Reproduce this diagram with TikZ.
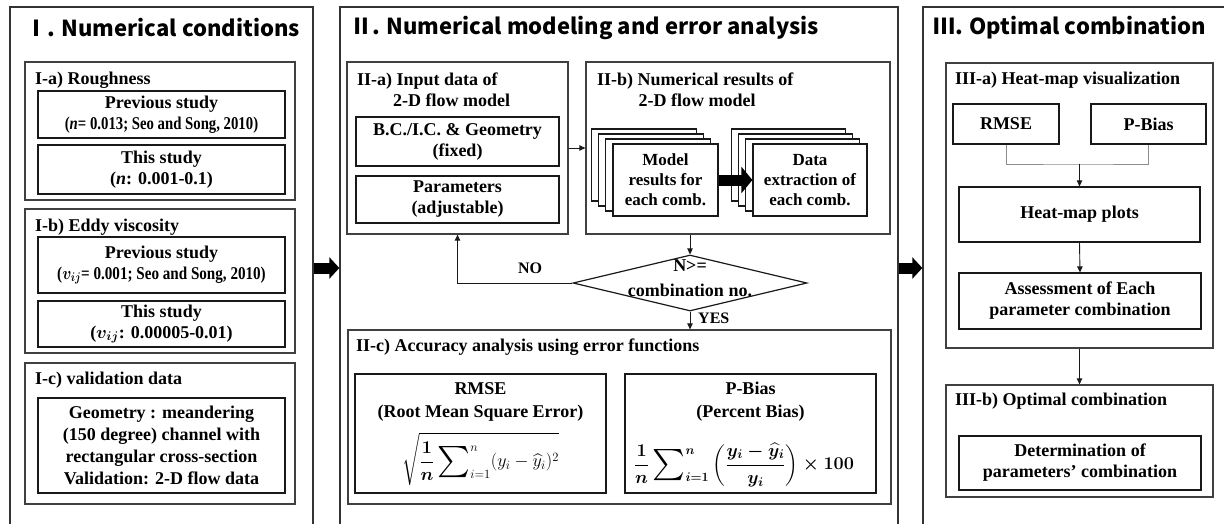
\RequirePackage{fix-cm}
\documentclass[tikz,border=0pt]{standalone}
\usepackage{amsmath}
\usepackage{exscale}
\usepackage{graphicx}
\usepackage{fontspec}
\setmainfont{Liberation Serif}
\newfontfamily\headfont{Noto Sans CJK KR}
\usetikzlibrary{arrows.meta,shapes.geometric,calc}
% enlarged summation sign with side limits
\newcommand\bigsumop{\mathop{\vcenter{\hbox{\scalebox{1.8}{$\textstyle\sum$}}}}\nolimits}
% percent bias formula, set in bold math
\newcommand\pbiasformula{{\boldmath$\displaystyle\frac{1}{n}\bigsumop_{i=1}^{n}\left(\frac{y_i-\widehat{y}_i}{y_i}\right)\times\mathbf{100}$}}

\begin{document}
\begin{tikzpicture}[x=1pt,y=-1pt,
  font=\fontsize{18}{21}\selectfont\bfseries,
  panel/.style={draw=black!80, line width=1.3pt, inner sep=0pt},
  grp/.style={draw=black!75, line width=1.3pt, inner sep=0pt},
  box/.style={draw=black!90, line width=1.2pt, fill=white, align=center, inner sep=0pt},
  card/.style={box},
  txt/.style={inner sep=0pt, align=center},
  lbl/.style={anchor=west, inner sep=0pt, align=left},
  ttl/.style={anchor=west, inner sep=0pt, font=\headfont\bfseries\fontsize{22}{26}\selectfont},
  arr/.style={draw=black!90, line width=0.9pt, -{Triangle[length=6pt,width=5.5pt]}},
  gline/.style={draw=black!45, line width=1pt},
  fat/.style={line width=11pt, -{Triangle[length=10pt,width=21pt]}},
  fatsm/.style={line width=11pt, -{Triangle[length=11pt,width=26pt]}}
]
\useasboundingbox (0,0) rectangle (1224,523);
\clip (0,0) rectangle (1224,523);

% ---------- three main panels ----------
\node[panel, minimum width=303, minimum height=553] (pI)   at (161.5,283.5) {};
\node[panel, minimum width=558, minimum height=553] (pII)  at (619,283.5) {};
\node[panel, minimum width=317, minimum height=553] (pIII) at (1081.5,283.5) {};

\node[ttl] (tI)   at (25,28)  {Ⅰ. Numerical conditions};
\node[ttl] (tII)  at (350,28) {Ⅱ. Numerical modeling and error analysis};
\node[ttl] (tIII) at (933,28) {Ⅲ. Optimal combination};

\coordinate (lvl) at (0,268);
\draw[fat] (pI.east |- lvl) -- (pII.west |- lvl);
\draw[fat] (pII.east |- lvl) -- (pIII.west |- lvl);

% ---------- I. numerical conditions ----------
\node[grp, minimum width=270, minimum height=138] (Ia) at (160,131) {};
\node[lbl] (Ialbl) at (35,80) {I-a) Roughness};
\node[box, minimum width=247, minimum height=47] (prevA) at (161.5,114.5)
  {Previous study\\\scalebox{0.82}[1]{(\textit{n}= 0.013; Seo and Song, 2010)}};
\node[box, minimum width=247, minimum height=49] (thisA) at (161.5,169.5)
  {This study\\(\textit{n}: 0.001-0.1)};

\node[grp, minimum width=270, minimum height=144] (Ib) at (160,281) {};
\node[lbl] (Iblbl) at (35,227) {I-b) Eddy viscosity};
\node[box, minimum width=247, minimum height=56] (prevB) at (161.5,265)
  {Previous study\\\scalebox{0.84}[1]{({\boldmath$v_{ij}$}= 0.001; Seo and Song, 2010)}};
\node[box, minimum width=247, minimum height=46] (thisB) at (161.5,324)
  {This study\\({\boldmath$v_{ij}$}: 0.00005-0.01)};

\node[grp, minimum width=270, minimum height=141] (Ic) at (160,433.5) {};
\node[lbl] (Iclbl) at (35,380) {I-c) validation data};
\node[box, minimum width=247, minimum height=95, font=\fontsize{18}{22}\selectfont\bfseries] (valC) at (161.5,445.5)
  {Geometry : meandering\\(150 degree) channel with\\rectangular cross-section\\Validation: 2-D flow data};

% ---------- II. numerical modeling ----------
\node[grp, minimum width=221, minimum height=172] (IIa) at (457.5,148) {};
\node[lbl] (IIalbl) at (357,89.5) {II-a) Input data of\\\hspace*{2em}2-D flow model};
\node[box, minimum width=203, minimum height=49] (bc) at (457.5,141.5)
  {B.C./I.C. \& Geometry\\(fixed)};
\node[box, minimum width=203, minimum height=47] (par) at (457.5,199.5)
  {Parameters\\(adjustable)};

\node[grp, minimum width=304, minimum height=172] (IIb) at (738,148) {};
\node[lbl] (IIblbl) at (597,89.5) {II-b) Numerical results of\\\hspace*{2.3em}2-D flow model};

\foreach \k in {3,2,1}{
  \node[card, minimum width=105, minimum height=72] (sa\k) at ({665.5-7.3*\k},{180-5*\k}) {};
  \node[card, minimum width=114, minimum height=72] (sb\k) at ({810-7.3*\k},{180-5*\k}) {};
}
\node[card, minimum width=105, minimum height=72, font=\fontsize{17}{20}\selectfont\bfseries] (sa) at (665.5,180)
  {Model\\results for\\each comb.};
\node[card, minimum width=114, minimum height=72, font=\fontsize{17}{20}\selectfont\bfseries] (sb) at (810,180)
  {Data\\extraction of\\each comb.};
\draw[fatsm] (sa.east) -- (sb.west);

\draw[arr] (IIa.east) -- (IIb.west);

\node[diamond, draw=black!90, line width=1.2pt, minimum width=234, minimum height=56, inner sep=0pt] (dec) at (690,283) {};
\node[txt] (decA) at (690,266) {N>=};
\node[txt] (decB) at (690,290) {combination no.};

\draw[arr] (IIb.south -| dec.north) -- (dec.north);
\draw[arr] (dec.west) -| (IIa.south);
\node[txt, font=\fontsize{16}{18}\selectfont\bfseries] (no) at (530,268) {NO};

\node[grp, minimum width=543, minimum height=174] (IIc) at (619.5,417) {};
\draw[arr] (dec.south) -- (dec.south |- IIc.north);
\node[lbl, font=\fontsize{16}{18}\selectfont\bfseries] (yes) at (698,318) {YES};

\node[lbl] (IIclbl) at (356,347) {II-c) Accuracy analysis using error functions};
\node[box, minimum width=251, minimum height=119] (rmse) at (480.5,433.5) {};
\node[txt, font=\fontsize{18}{23}\selectfont\bfseries] (rmseT) at (480.5,401.5)
  {RMSE\\(Root Mean Square Error)};
\node[txt] (rmseF) at (480.5,459)
  {$\displaystyle\sqrt{\boldsymbol{\frac{1}{n}}\bigsumop_{i=1}^{n}(y_i-\widehat{y}_i)^2}$};

\node[box, minimum width=251, minimum height=119] (pbias) at (750.5,433.5) {};
\node[txt, font=\fontsize{18}{23}\selectfont\bfseries] (pbiasT) at (750.5,401.5)
  {P-Bias\\(Percent Bias)};
\node[txt] (pbiasF) at (744,465) {\pbiasformula};

% ---------- III. optimal combination ----------
\node[grp, minimum width=267, minimum height=285] (IIIa) at (1079.5,205.5) {};
\node[lbl] (IIIalbl) at (955,80) {III-a) Heat-map visualization};
\node[box, minimum width=106, minimum height=40] (rmse3) at (1006,124) {RMSE};
\node[box, minimum width=115, minimum height=40] (pbias3) at (1148.5,124) {P-Bias};
\node[box, minimum width=241, minimum height=55] (heat) at (1079.5,214.5) {Heat-map plots};
\node[box, minimum width=242, minimum height=56] (assess) at (1080,301)
  {Assessment of Each\\parameter combination};

\coordinate (jy) at (0,164);
\coordinate (join) at (heat.north |- jy);
\draw[gline] (rmse3.south) |- (join) -| (pbias3.south);
\draw[arr] (join) -- (heat.north);
\draw[arr] (heat.south) -- (assess.north);

\node[grp, minimum width=267, minimum height=112] (IIIb) at (1079.5,441) {};
\draw[arr] (IIIa.south) -- (IIIb.north);
\node[lbl] (IIIblbl) at (955,401) {III-b) Optimal combination};
\node[box, minimum width=242, minimum height=54] (determ) at (1080,463)
  {Determination of\\parameters' combination};
\end{tikzpicture}
\end{document}
